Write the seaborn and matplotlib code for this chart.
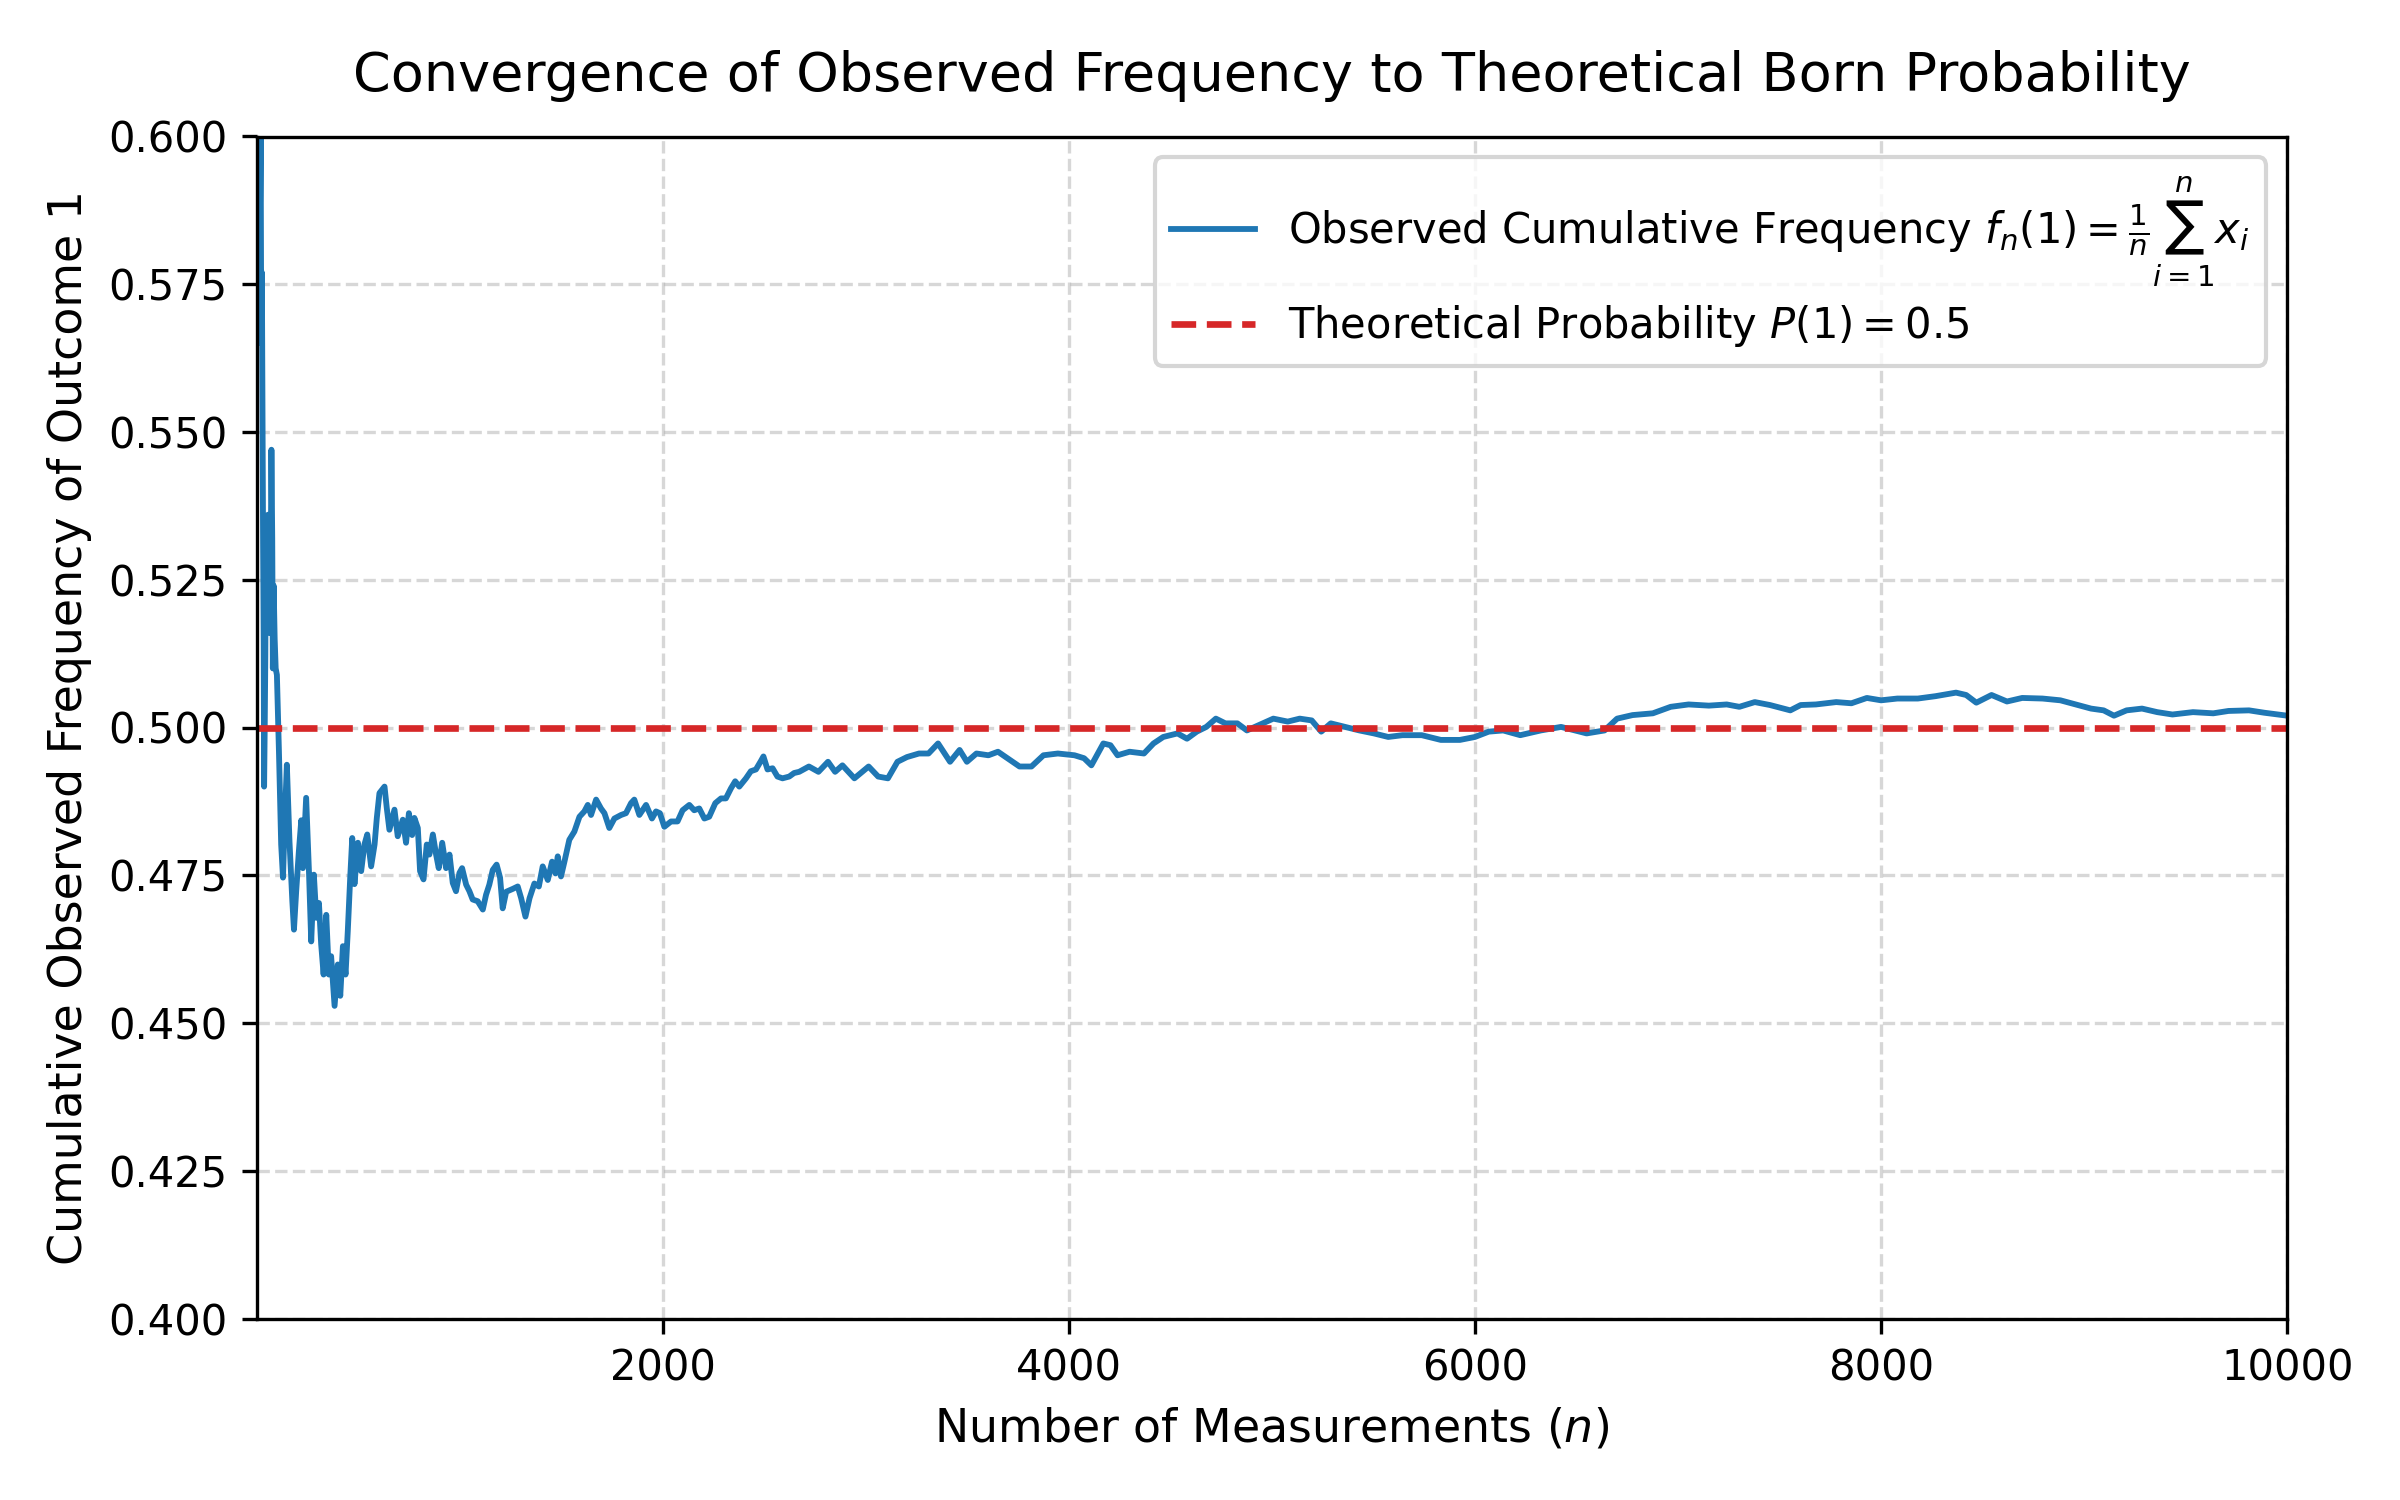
import matplotlib
matplotlib.use("Agg")
import matplotlib.pyplot as plt
import seaborn as sns

# values (n, cumulative frequency of outcome 1)
n_values = [
    1, 2, 3, 4, 5, 6, 8, 10, 12, 14, 17, 20, 23, 26, 29, 32, 35, 37, 40, 43,
    45, 48, 52, 56, 60, 64, 67, 70, 73, 77, 80, 84, 89, 94, 100, 110, 121, 130,
    138, 149, 162, 176, 184, 195, 208, 220, 228, 244, 258, 269, 282, 294, 307,
    318, 330, 343, 356, 367, 384, 400, 412, 425, 438, 449, 461, 471, 482, 499,
    515, 531, 545, 564, 581, 592, 605, 630, 641, 654, 679, 695, 720, 736, 750,
    766, 777, 794, 805, 822, 838, 851, 868, 884, 897, 914, 933, 950, 966, 982,
    999, 1012, 1032, 1048, 1064, 1089, 1114, 1130, 1146, 1163, 1182, 1199,
    1212, 1229, 1262, 1286, 1303, 1324, 1344, 1368, 1390, 1409, 1434, 1455,
    1472, 1483, 1499, 1516, 1540, 1565, 1590, 1614, 1631, 1647, 1672, 1696,
    1713, 1737, 1762, 1795, 1819, 1844, 1860, 1885, 1918, 1947, 1967, 1986,
    2008, 2041, 2073, 2098, 2131, 2155, 2180, 2205, 2229, 2259, 2287, 2311,
    2336, 2357, 2377, 2410, 2434, 2459, 2483, 2496, 2516, 2541, 2565, 2590,
    2623, 2647, 2672, 2720, 2767, 2814, 2849, 2885, 2944, 3014, 3061, 3109,
    3156, 3203, 3262, 3309, 3356, 3415, 3462, 3498, 3545, 3604, 3651, 3698,
    3757, 3816, 3875, 3946, 4028, 4075, 4111, 4170, 4205, 4240, 4299, 4370,
    4417, 4465, 4535, 4582, 4630, 4677, 4724, 4771, 4830, 4877, 4936, 5007,
    5078, 5137, 5196, 5243, 5290, 5361, 5431, 5502, 5573, 5643, 5738, 5832,
    5926, 6000, 6068, 6139, 6223, 6324, 6424, 6550, 6638, 6700, 6776, 6876,
    6964, 7052, 7152, 7240, 7302, 7378, 7453, 7553, 7604, 7679, 7779, 7854,
    7930, 8000, 8080, 8181, 8268, 8369, 8419, 8469, 8544, 8620, 8695, 8795,
    8883, 8958, 9034, 9096, 9147, 9209, 9285, 9360, 9435, 9536, 9636, 9711,
    9812, 9887, 10000,
]
freq_values = [
    1.0, 1.0, 0.667, 0.75, 0.6, 0.667, 0.625, 0.6, 0.583, 0.643, 0.588, 0.6,
    0.565, 0.577, 0.552, 0.531, 0.514, 0.49, 0.5, 0.512, 0.526, 0.521, 0.52,
    0.536, 0.526, 0.516, 0.52, 0.529, 0.547, 0.532, 0.51, 0.524, 0.515, 0.51,
    0.5089, 0.496, 0.4802, 0.4746, 0.4836, 0.4937, 0.4807, 0.4706, 0.4658,
    0.4723, 0.479, 0.4843, 0.4762, 0.4881, 0.4755, 0.4638, 0.4751, 0.4678,
    0.4703, 0.4633, 0.4582, 0.4683, 0.4582, 0.4613, 0.4529, 0.4599, 0.4546,
    0.463, 0.4582, 0.4655, 0.4746, 0.4813, 0.4735, 0.4805, 0.4757, 0.4802,
    0.4819, 0.4765, 0.4802, 0.4847, 0.4889, 0.49, 0.4864, 0.4827, 0.4861,
    0.4816, 0.4844, 0.4805, 0.4855, 0.4818, 0.4847, 0.483, 0.4757, 0.4743,
    0.4802, 0.4785, 0.4819, 0.4785, 0.4762, 0.4805, 0.4762, 0.4785, 0.4737,
    0.4723, 0.4754, 0.4762, 0.4734, 0.4723, 0.4709, 0.4706, 0.4692, 0.4717,
    0.4734, 0.4759, 0.4768, 0.4746, 0.4694, 0.4722, 0.4727, 0.4731, 0.4711,
    0.468, 0.4711, 0.4736, 0.4731, 0.4765, 0.4742, 0.4773, 0.4753, 0.4782,
    0.4748, 0.4773, 0.481, 0.4824, 0.4849, 0.4858, 0.4869, 0.4852, 0.4878,
    0.4863, 0.4855, 0.483, 0.4846, 0.4852, 0.4855, 0.4872, 0.4878, 0.4852,
    0.4869, 0.4846, 0.4858, 0.4855, 0.4832, 0.4841, 0.4841, 0.486, 0.4869,
    0.486, 0.4863, 0.4846, 0.4849, 0.4872, 0.488, 0.488, 0.4897, 0.4909, 0.49,
    0.4914, 0.4926, 0.4929, 0.4943, 0.4951, 0.4929, 0.4931, 0.4917, 0.4914,
    0.4917, 0.4923, 0.4925, 0.4934, 0.4925, 0.4942, 0.4925, 0.4936, 0.4914,
    0.4934, 0.4917, 0.4914, 0.4942, 0.495, 0.4956, 0.4956, 0.4973, 0.4942,
    0.4962, 0.4942, 0.4956, 0.4953, 0.4959, 0.4948, 0.4934, 0.4934, 0.4953,
    0.4956, 0.4953, 0.4948, 0.4936, 0.4973, 0.497, 0.4953, 0.4959, 0.4956,
    0.4973, 0.4984, 0.499, 0.4981, 0.4993, 0.5001, 0.5015, 0.5007, 0.5007,
    0.4995, 0.5004, 0.5015, 0.501, 0.5015, 0.5012, 0.4993, 0.5007, 0.5001,
    0.4995, 0.499, 0.4984, 0.4987, 0.4987, 0.4979, 0.4979, 0.4984, 0.4993,
    0.4995, 0.4987, 0.4995, 0.5001, 0.499, 0.4995, 0.5015, 0.5021, 0.5024,
    0.5035, 0.5039, 0.5037, 0.5039, 0.5035, 0.5043, 0.5038, 0.5029, 0.5038,
    0.5039, 0.5043, 0.5041, 0.505, 0.5046, 0.5049, 0.5049, 0.5053, 0.5059,
    0.5055, 0.5042, 0.5055, 0.5044, 0.505, 0.5049, 0.5046, 0.5039, 0.5032,
    0.5029, 0.502, 0.5029, 0.5032, 0.5026, 0.5022, 0.5026, 0.5024, 0.5028,
    0.5029, 0.5025, 0.502,
]
theory_p = 0.5

fig, ax = plt.subplots(figsize=(8, 5), dpi=300)

sns.lineplot(x=n_values, y=freq_values, ax=ax, color="tab:blue", linewidth=1.4,
             label=r"Observed Cumulative Frequency $f_n(1) = \frac{1}{n}\sum_{i=1}^{n} x_i$")
ax.axhline(theory_p, color="tab:red", linestyle="--", linewidth=1.6,
           label=r"Theoretical Probability $P(1) = 0.5$")

ax.set_xlim(1, 10000)
ax.set_ylim(0.4, 0.6)
ax.set_title("Convergence of Observed Frequency to Theoretical Born Probability",
             fontsize=13, pad=11)
ax.set_xlabel(r"Number of Measurements ($n$)", fontsize=11)
ax.set_ylabel("Cumulative Observed Frequency of Outcome 1", fontsize=11)
ax.grid(True, linestyle="--", alpha=0.5)
ax.legend(loc="upper right", fontsize=10, labelspacing=0.35)

fig.subplots_adjust(left=0.107, right=0.953, bottom=0.121, top=0.909)
fig.savefig("out.png", dpi=300)
